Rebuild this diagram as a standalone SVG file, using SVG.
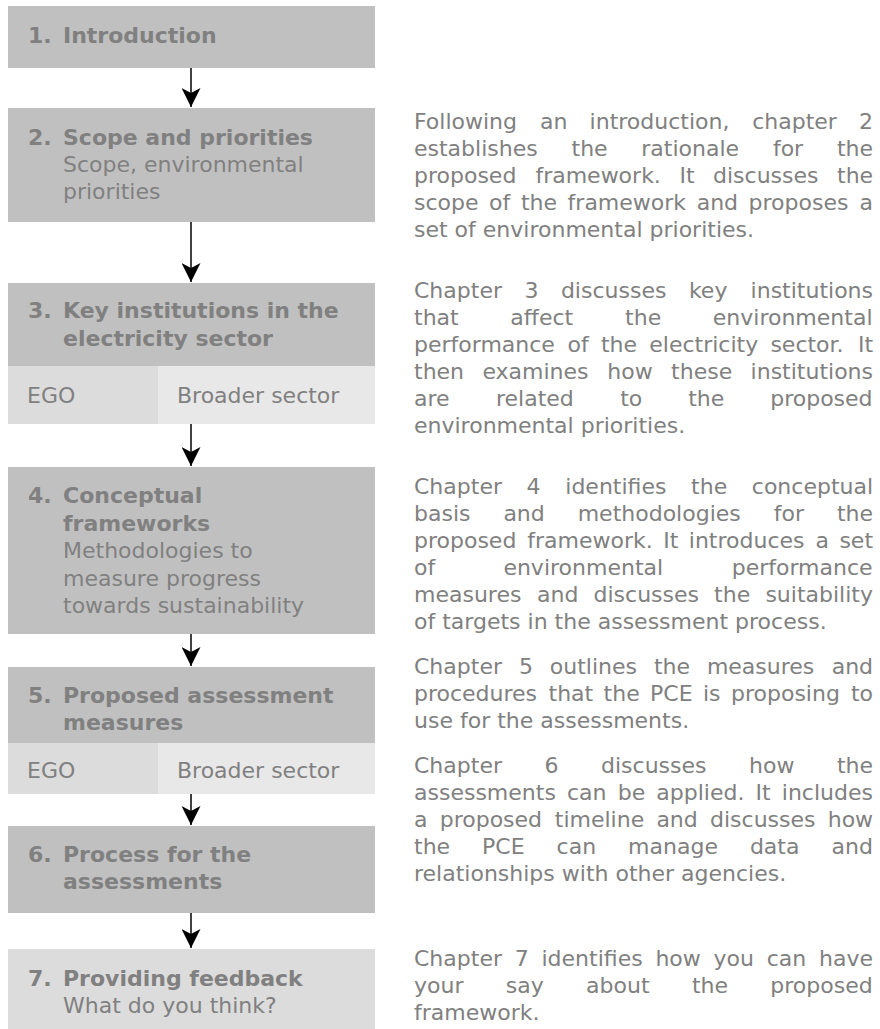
<svg xmlns="http://www.w3.org/2000/svg" width="880" height="1029" viewBox="0 0 880 1029">
  <style>
    .box { fill: #c0c0c0; }
    .lite { fill: #dcdcdc; }
    .pale { fill: #e8e8e8; }
    text { font-family: "DejaVu Sans", Verdana, sans-serif; font-size: 22px; fill: #808080; }
    .b { font-weight: bold; }
    .conn line { stroke: #000; stroke-width: 1.5; fill: none; }
  </style>
  <defs>
    <marker id="head" markerUnits="userSpaceOnUse" markerWidth="20" markerHeight="19" viewBox="0 0 20 19" refX="19" refY="9.5" orient="auto">
      <path d="M0,0 L19,9.5 L0,19 L5,9.5 Z" fill="#000"/>
    </marker>
  </defs>

  <rect width="880" height="1029" fill="#fff"/>

  <!-- chapter boxes -->
  <g id="ch1">
    <rect class="box" x="8" y="6" width="367" height="62"/>
    <text class="b" x="28" y="43">1.</text>
    <text class="b" x="63" y="43">Introduction</text>
  </g>

  <g id="ch2">
    <rect class="box" x="8" y="108" width="367" height="114"/>
    <text class="b" x="28" y="145">2.</text>
    <text class="b" x="63" y="145">Scope and priorities</text>
    <text x="63" y="172">Scope, environmental</text>
    <text x="63" y="198.5">priorities</text>
  </g>

  <g id="ch3">
    <rect class="box" x="8" y="283" width="367" height="83"/>
    <text class="b" x="28" y="318">3.</text>
    <text class="b" x="63" y="318">Key institutions in the</text>
    <text class="b" x="63" y="346">electricity sector</text>
    <rect class="lite" x="8" y="366" width="150" height="58"/>
    <rect class="pale" x="158" y="366" width="217" height="58"/>
    <text x="27" y="403">EGO</text>
    <text x="177" y="403">Broader sector</text>
  </g>

  <g id="ch4">
    <rect class="box" x="8" y="467" width="367" height="167"/>
    <text class="b" x="28" y="503">4.</text>
    <text class="b" x="63" y="503">Conceptual</text>
    <text class="b" x="63" y="530.5">frameworks</text>
    <text x="63" y="558">Methodologies to</text>
    <text x="63" y="585.5">measure progress</text>
    <text x="63" y="613">towards sustainability</text>
  </g>

  <g id="ch5">
    <rect class="box" x="8" y="667" width="367" height="76"/>
    <text class="b" x="28" y="703">5.</text>
    <text class="b" x="63" y="703">Proposed assessment</text>
    <text class="b" x="63" y="730">measures</text>
    <rect class="lite" x="8" y="743" width="150" height="51"/>
    <rect class="pale" x="158" y="743" width="217" height="51"/>
    <text x="27" y="778">EGO</text>
    <text x="177" y="778">Broader sector</text>
  </g>

  <g id="ch6">
    <rect class="box" x="8" y="826" width="367" height="87"/>
    <text class="b" x="28" y="862">6.</text>
    <text class="b" x="63" y="862">Process for the</text>
    <text class="b" x="63" y="889">assessments</text>
  </g>

  <g id="ch7">
    <rect class="lite" x="8" y="949" width="367" height="80"/>
    <text class="b" x="28" y="986">7.</text>
    <text class="b" x="63" y="986">Providing feedback</text>
    <text x="63" y="1013">What do you think?</text>
  </g>

  <!-- connectors -->
  <g class="conn">
    <line x1="191" y1="68" x2="191" y2="107" marker-end="url(#head)"/>
    <line x1="191" y1="222" x2="191" y2="282" marker-end="url(#head)"/>
    <line x1="191" y1="424" x2="191" y2="466" marker-end="url(#head)"/>
    <line x1="191" y1="634" x2="191" y2="666" marker-end="url(#head)"/>
    <line x1="191" y1="794" x2="191" y2="825" marker-end="url(#head)"/>
    <line x1="191" y1="913" x2="191" y2="948" marker-end="url(#head)"/>
  </g>

  <!-- chapter descriptions, justified word by word -->
  <g id="notes">
    <text y="129"><tspan x="414">Following</tspan><tspan x="540">an</tspan><tspan x="589.6">introduction,</tspan><tspan x="752.2">chapter</tspan><tspan x="859.1">2</tspan></text>
    <text y="156"><tspan x="414">establishes</tspan><tspan x="571.5">the</tspan><tspan x="641.3">rationale</tspan><tspan x="772.9">for</tspan><tspan x="836.9">the</tspan></text>
    <text y="183"><tspan x="414">proposed</tspan><tspan x="535.4">framework.</tspan><tspan x="679.4">It</tspan><tspan x="713">discusses</tspan><tspan x="837">the</tspan></text>
    <text y="210"><tspan x="414">scope</tspan><tspan x="489.1">of</tspan><tspan x="520.9">the</tspan><tspan x="567.6">framework</tspan><tspan x="696.7">and</tspan><tspan x="748.6">proposes</tspan><tspan x="859.6">a</tspan></text>
    <text x="414" y="237">set of environmental priorities.</text>

    <text y="298"><tspan x="414">Chapter</tspan><tspan x="524.5">3</tspan><tspan x="560.9">discusses</tspan><tspan x="688.9">key</tspan><tspan x="750.6">institutions</tspan></text>
    <text y="325"><tspan x="414">that</tspan><tspan x="510.3">affect</tspan><tspan x="625.1">the</tspan><tspan x="712.8">environmental</tspan></text>
    <text y="352"><tspan x="414">performance</tspan><tspan x="567.5">of</tspan><tspan x="600.9">the</tspan><tspan x="649.3">electricity</tspan><tspan x="770.4">sector.</tspan><tspan x="857.9">It</tspan></text>
    <text y="379"><tspan x="414">then</tspan><tspan x="482.4">examines</tspan><tspan x="607.3">how</tspan><tspan x="671.1">these</tspan><tspan x="750.6">institutions</tspan></text>
    <text y="406"><tspan x="414">are</tspan><tspan x="496">related</tspan><tspan x="620.2">to</tspan><tspan x="688.2">the</tspan><tspan x="770.2">proposed</tspan></text>
    <text x="414" y="433">environmental priorities.</text>

    <text y="494"><tspan x="414">Chapter</tspan><tspan x="526.6">4</tspan><tspan x="565.3">identifies</tspan><tspan x="691.1">the</tspan><tspan x="751.8">conceptual</tspan></text>
    <text y="521"><tspan x="414">basis</tspan><tspan x="503.4">and</tspan><tspan x="577.7">methodologies</tspan><tspan x="773.7">for</tspan><tspan x="836.9">the</tspan></text>
    <text y="548"><tspan x="414">proposed</tspan><tspan x="527.3">framework.</tspan><tspan x="663.2">It</tspan><tspan x="688.8">introduces</tspan><tspan x="815.4">a</tspan><tspan x="839.4">set</tspan></text>
    <text y="575"><tspan x="414">of</tspan><tspan x="503.4">environmental</tspan><tspan x="731.7">performance</tspan></text>
    <text y="602"><tspan x="414">measures</tspan><tspan x="537">and</tspan><tspan x="593.5">discusses</tspan><tspan x="714.1">the</tspan><tspan x="765.4">suitability</tspan></text>
    <text x="414" y="629">of targets in the assessment process.</text>

    <text y="674"><tspan x="414">Chapter</tspan><tspan x="518.9">5</tspan><tspan x="549.8">outlines</tspan><tspan x="653.9">the</tspan><tspan x="706.9">measures</tspan><tspan x="831.7">and</tspan></text>
    <text y="701"><tspan x="414">procedures</tspan><tspan x="548.5">that</tspan><tspan x="603.6">the</tspan><tspan x="650.1">PCE</tspan><tspan x="703">is</tspan><tspan x="731">proposing</tspan><tspan x="850.9">to</tspan></text>
    <text x="414" y="728">use for the assessments.</text>

    <text y="773"><tspan x="414">Chapter</tspan><tspan x="544.5">6</tspan><tspan x="601">discusses</tspan><tspan x="749">how</tspan><tspan x="836.9">the</tspan></text>
    <text y="800"><tspan x="414">assessments</tspan><tspan x="567">can</tspan><tspan x="617.7">be</tspan><tspan x="656.3">applied.</tspan><tspan x="755.6">It</tspan><tspan x="781.8">includes</tspan></text>
    <text y="827"><tspan x="414">a</tspan><tspan x="439.7">proposed</tspan><tspan x="554.8">timeline</tspan><tspan x="656.4">and</tspan><tspan x="710">discusses</tspan><tspan x="827.7">how</tspan></text>
    <text y="854"><tspan x="414">the</tspan><tspan x="482.1">PCE</tspan><tspan x="556.6">can</tspan><tspan x="628.1">manage</tspan><tspan x="749.9">data</tspan><tspan x="831.5">and</tspan></text>
    <text x="414" y="881">relationships with other agencies.</text>

    <text y="966"><tspan x="414">Chapter</tspan><tspan x="514.8">7</tspan><tspan x="541.5">identifies</tspan><tspan x="655.4">how</tspan><tspan x="713.6">you</tspan><tspan x="766.7">can</tspan><tspan x="819">have</tspan></text>
    <text y="993"><tspan x="414">your</tspan><tspan x="505.8">say</tspan><tspan x="586.1">about</tspan><tspan x="691.9">the</tspan><tspan x="770.3">proposed</tspan></text>
    <text x="414" y="1020">framework.</text>
  </g>
</svg>
